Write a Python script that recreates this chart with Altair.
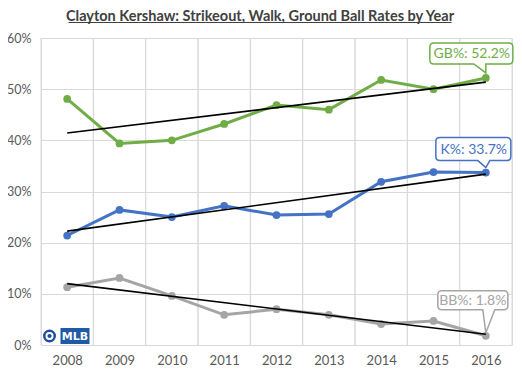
import altair as alt
import pandas as pd

years = [2008, 2009, 2010, 2011, 2012, 2013, 2014, 2015, 2016]
gb_rate = [48.1, 39.4, 40.0, 43.2, 46.9, 46.0, 51.8, 50.0, 52.2]
k_rate = [21.4, 26.4, 25.0, 27.2, 25.4, 25.6, 31.9, 33.8, 33.7]
bb_rate = [11.3, 13.1, 9.6, 5.9, 7.0, 5.9, 4.1, 4.7, 1.8]
series_names = ["GB%", "K%", "BB%"]
series_colors = ["#70ad47", "#4472c4", "#a5a5a5"]
y_ticks = [0, 0.1, 0.2, 0.3, 0.4, 0.5, 0.6]
title_text = "Clayton Kershaw: Strikeout, Walk, Ground Ball Rates by Year"

rows = []
for name, vals in zip(series_names, [gb_rate, k_rate, bb_rate]):
    for y, v in zip(years, vals):
        rows.append({"series": name, "year": y, "value": v / 100.0})
df = pd.DataFrame(rows)

FONT = "Lato"
xscale = alt.Scale(domain=[years[0] - 0.5, years[-1] + 0.5], nice=False, zero=False)
yscale = alt.Scale(domain=[0, 0.6], nice=False)
cscale = alt.Scale(domain=series_names, range=series_colors)

x_axis = alt.Axis(values=years, format="d", grid=False, domain=False, ticks=False,
                  labelPadding=9, labelFontSize=13, labelColor="#595959",
                  labelFont=FONT, title=None)
y_axis = alt.Axis(values=y_ticks, format=".0%", grid=True, gridColor="#d9d9d9",
                  domain=False, ticks=False, labelPadding=10, labelFontSize=12.5,
                  labelColor="#595959", labelFont=FONT, title=None)

yrs = pd.DataFrame({"year": years})
grid_lo = alt.Chart(yrs).transform_calculate(b="datum.year - 0.5").mark_rule(
    color="#d9d9d9", strokeWidth=1).encode(x=alt.X("b:Q", scale=xscale, axis=x_axis))
grid_hi = alt.Chart(yrs).transform_calculate(b="datum.year + 0.5").mark_rule(
    color="#d9d9d9", strokeWidth=1).encode(x=alt.X("b:Q", scale=xscale, axis=x_axis))

base = alt.Chart(df)
lines = base.mark_line(strokeWidth=3).encode(
    x=alt.X("year:Q", scale=xscale, axis=x_axis),
    y=alt.Y("value:Q", scale=yscale, axis=y_axis),
    color=alt.Color("series:N", scale=cscale, legend=None))
points = base.mark_circle(size=60, opacity=1).encode(
    x="year:Q", y="value:Q", color=alt.Color("series:N", scale=cscale, legend=None))
trend = base.transform_regression("year", "value", groupby=["series"]).mark_line(
    color="black", strokeWidth=1.6).encode(x="year:Q", y="value:Q", detail="series:N")

callout_shapes = {
    "GB%": "M -52,-35 L 23,-35 Q 27,-35 27,-31 L 27,-18 Q 27,-14 23,-14 L 0,-14 L 0,-5 L -12,-14 L -52,-14 Q -56,-14 -56,-18 L -56,-31 Q -56,-35 -52,-35 Z",
    "K%": "M -46,-35 L 21,-35 Q 25,-35 25,-31 L 25,-16 Q 25,-12 21,-12 L 4,-12 L 0,-5 L -8,-12 L -46,-12 Q -50,-12 -50,-16 L -50,-31 Q -50,-35 -46,-35 Z",
    "BB%": "M -44,-45 L 18,-45 Q 22,-45 22,-41 L 22,-30 Q 22,-26 18,-26 L 9,-26 L 0,-3 L -3,-26 L -44,-26 Q -48,-26 -48,-30 L -48,-41 Q -48,-45 -44,-45 Z",
}
text_offsets = {"GB%": (-14, -24), "K%": (-12, -23), "BB%": (-13, -35)}

callouts = []
last_year = years[-1]
for name, col in zip(series_names, series_colors):
    sub = base.transform_filter(
        f"datum.series == '{name}' && datum.year == {last_year}"
    ).transform_calculate(label="datum.series + ': ' + format(datum.value, '.1%')")
    box = sub.mark_point(shape=callout_shapes[name], size=4, filled=True, fill="white",
                         stroke=col, strokeWidth=1.5, opacity=1).encode(x="year:Q", y="value:Q")
    dx, dy = text_offsets[name]
    txt = sub.mark_text(dx=dx, dy=dy, color=col, fontSize=14, font=FONT,
                        baseline="middle", align="center").encode(
        x="year:Q", y="value:Q", text="label:N")
    callouts += [box, txt]

one = pd.DataFrame({"t": [title_text], "m": ["MLB"]})
title = alt.Chart(one).mark_text(font=FONT, fontSize=14.5, fontWeight="bold", color="#404040",
                                 baseline="middle", align="center").encode(
    x=alt.value(219), y=alt.value(-21.5), text="t:N")
underline = alt.Chart(one).mark_rule(color="#404040", strokeWidth=1).encode(
    x=alt.value(27.5), x2=alt.value(410.5), y=alt.value(-15.5))
logo_ring = alt.Chart(one).mark_point(shape="circle", size=110, filled=False,
                                       stroke="#1f4e9c", strokeWidth=2.5, opacity=1).encode(
    x=alt.value(8.5), y=alt.value(298))
logo_dot = alt.Chart(one).mark_point(shape="circle", size=18, filled=True,
                                      color="#1f4e9c", opacity=1).encode(
    x=alt.value(8.5), y=alt.value(298))
logo_box = alt.Chart(one).mark_rect(color="#1f5aa6").encode(
    x=alt.value(19.5), x2=alt.value(48.5), y=alt.value(290), y2=alt.value(306))
logo_txt = alt.Chart(one).mark_text(
    color="white", fontWeight="bold", fontSize=11, font="DejaVu Sans").encode(
    x=alt.value(34), y=alt.value(298.5), text="m:N")

chart = alt.layer(
    grid_lo, grid_hi, lines, points, trend, *callouts,
    title, underline, logo_ring, logo_dot, logo_box, logo_txt
).properties(
    width=471, height=307,
    padding={"left": 33, "top": 30, "right": 2, "bottom": 24},
    autosize=alt.AutoSizeParams(type="none"),
).configure_view(stroke=None).configure(background="white")

chart.save("out.html", embed_options={"renderer": "svg", "actions": False})
